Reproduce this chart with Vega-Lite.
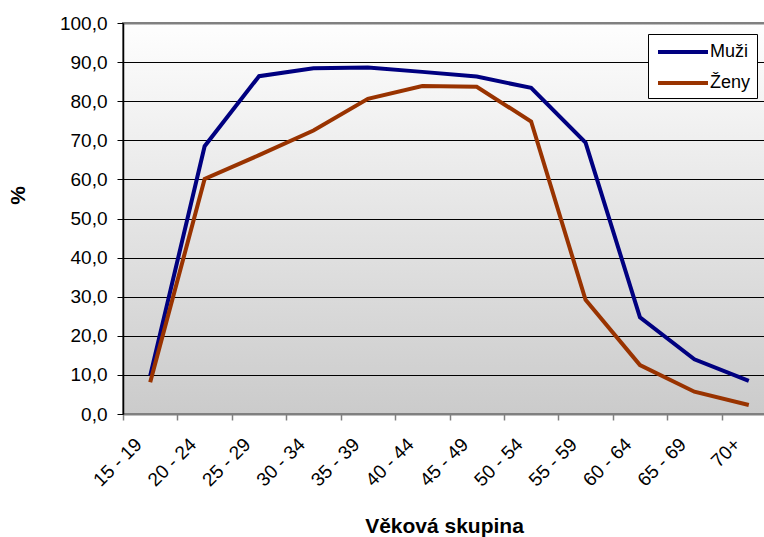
{
  "$schema": "https://vega.github.io/schema/vega-lite/v6.json",
  "autosize": {"type": "none"},
  "padding": {"left": 123, "top": 23, "right": 0, "bottom": 123},
  "width": 653,
  "height": 391,
  "background": "#ffffff",
  "config": {
    "font": "Liberation Sans",
    "view": {
      "fill": {
        "gradient": "linear",
        "x1": 0, "y1": 0, "x2": 0, "y2": 1,
        "stops": [
          {"offset": 0, "color": "#fefefe"},
          {"offset": 1, "color": "#cbcbcb"}
        ]
      },
      "stroke": "#808080",
      "strokeWidth": 2
    }
  },
  "data": {
    "values": [
      {"skupina": "15 - 19", "pohlavi": "Muži", "hodnota": 9.8},
      {"skupina": "20 - 24", "pohlavi": "Muži", "hodnota": 68.5},
      {"skupina": "25 - 29", "pohlavi": "Muži", "hodnota": 86.4},
      {"skupina": "30 - 34", "pohlavi": "Muži", "hodnota": 88.4},
      {"skupina": "35 - 39", "pohlavi": "Muži", "hodnota": 88.6},
      {"skupina": "40 - 44", "pohlavi": "Muži", "hodnota": 87.5},
      {"skupina": "45 - 49", "pohlavi": "Muži", "hodnota": 86.3},
      {"skupina": "50 - 54", "pohlavi": "Muži", "hodnota": 83.4},
      {"skupina": "55 - 59", "pohlavi": "Muži", "hodnota": 69.4},
      {"skupina": "60 - 64", "pohlavi": "Muži", "hodnota": 24.7},
      {"skupina": "65 - 69", "pohlavi": "Muži", "hodnota": 14.0},
      {"skupina": "70+", "pohlavi": "Muži", "hodnota": 8.5},
      {"skupina": "15 - 19", "pohlavi": "Ženy", "hodnota": 8.1},
      {"skupina": "20 - 24", "pohlavi": "Ženy", "hodnota": 60.1},
      {"skupina": "25 - 29", "pohlavi": "Ženy", "hodnota": 66.2},
      {"skupina": "30 - 34", "pohlavi": "Ženy", "hodnota": 72.5},
      {"skupina": "35 - 39", "pohlavi": "Ženy", "hodnota": 80.6},
      {"skupina": "40 - 44", "pohlavi": "Ženy", "hodnota": 83.9},
      {"skupina": "45 - 49", "pohlavi": "Ženy", "hodnota": 83.7},
      {"skupina": "50 - 54", "pohlavi": "Ženy", "hodnota": 74.8},
      {"skupina": "55 - 59", "pohlavi": "Ženy", "hodnota": 29.2},
      {"skupina": "60 - 64", "pohlavi": "Ženy", "hodnota": 12.5},
      {"skupina": "65 - 69", "pohlavi": "Ženy", "hodnota": 5.7},
      {"skupina": "70+", "pohlavi": "Ženy", "hodnota": 2.3}
    ]
  },
  "mark": {"type": "line", "strokeWidth": 4, "strokeJoin": "miter", "strokeCap": "butt"},
  "encoding": {
    "x": {
      "field": "skupina",
      "type": "ordinal",
      "sort": null,
      "bandPosition": 0.5,
      "scale": {"type": "band", "paddingInner": 0, "paddingOuter": 0},
      "axis": {
        "title": "Věková skupina",
        "titleFont": "Liberation Sans",
        "titleFontSize": 21,
        "titleFontWeight": "bold",
        "titleColor": "#000000",
        "titleX": 321,
        "titleY": 112,
        "titleBaseline": "middle",
        "labelAngle": -45,
        "labelAlign": "right",
        "labelBaseline": "middle",
        "labelFontSize": 19,
        "labelColor": "#000000",
        "labelOffset": -12,
        "labelPadding": 21,
        "tickBand": "extent",
        "tickSize": 6,
        "tickColor": "#808080",
        "tickWidth": 1.5,
        "domainColor": "#808080",
        "domainWidth": 2,
        "grid": false
      }
    },
    "y": {
      "field": "hodnota",
      "type": "quantitative",
      "scale": {"domain": [0, 100], "nice": false},
      "axis": {
        "title": "%",
        "titleFontSize": 21,
        "titleFontWeight": "bold",
        "titleColor": "#000000",
        "titleAngle": -90,
        "titleX": -105,
        "titleY": 172,
        "titleAlign": "center",
        "titleBaseline": "middle",
        "values": [0, 10, 20, 30, 40, 50, 60, 70, 80, 90, 100],
        "labelExpr": "replace(format(datum.value, '.1f'), '.', ',')",
        "labelFontSize": 19,
        "labelColor": "#000000",
        "labelPadding": 10,
        "tickSize": 6,
        "tickColor": "#000000",
        "domainColor": "#000000",
        "domainWidth": 1.5,
        "grid": true,
        "gridColor": {"condition": {"test": "datum.value == 100", "value": "#808080"}, "value": "#000000"},
        "gridWidth": {"condition": {"test": "datum.value == 100", "value": 2}, "value": 1},
        "gridOpacity": 1
      }
    },
    "color": {
      "field": "pohlavi",
      "type": "nominal",
      "scale": {"domain": ["Muži", "Ženy"], "range": ["#000080", "#993300"]},
      "legend": {
        "title": null,
        "orient": "none",
        "legendX": 525,
        "legendY": 11,
        "symbolType": "M-0.8,0H4.2",
        "symbolSize": 400,
        "symbolStrokeWidth": 4,
        "labelFontSize": 18,
        "labelColor": "#000000",
        "labelOffset": 32,
        "strokeColor": "#000000",
        "fillColor": "#ffffff",
        "padding": 6,
        "rowPadding": 10
      }
    }
  }
}
